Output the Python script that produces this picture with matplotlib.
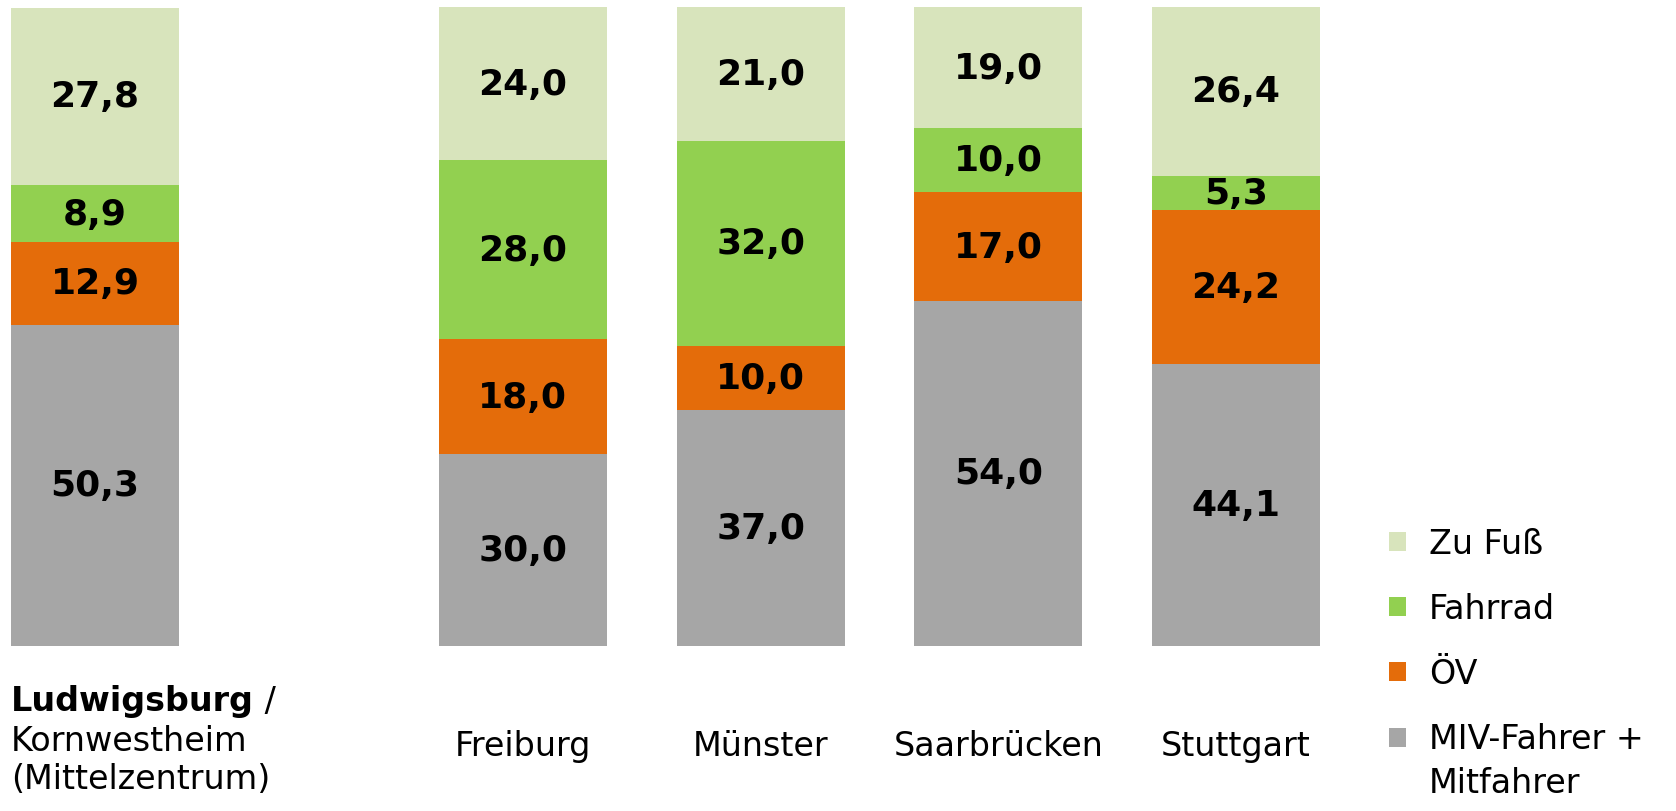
import matplotlib

matplotlib.use("Agg")
import matplotlib.pyplot as plt
import numpy as np
from matplotlib.legend_handler import HandlerPatch
from matplotlib.patches import Patch, Rectangle

# Modal split per city, stacked bottom -> top
CITIES = ["Ludwigsburg", "Freiburg", "Münster", "Saarbrücken", "Stuttgart"]
MODES = ["MIV-Fahrer +\nMitfahrer", "ÖV", "Fahrrad", "Zu Fuß"]
MIV = [50.3, 30.0, 37.0, 54.0, 44.1]
OEV = [12.9, 18.0, 10.0, 17.0, 24.2]
FAHRRAD = [8.9, 28.0, 32.0, 10.0, 5.3]
ZU_FUSS = [27.8, 24.0, 21.0, 19.0, 26.4]
COLORS = ["#a6a6a6", "#e46c0a", "#92d050", "#d8e4bc"]

W, H, DPI = 1676, 812, 100
X_POS = np.array([0, 1.8, 2.8, 3.8, 4.8])
BAR_W = 0.707
FS = 24
LINE_SP = 1.41


def _top_square(legend, orig_handle, xdescent, ydescent, width, height, fontsize):
    # multi-line labels: keep the square level with the first text line
    n_lines = orig_handle.get_label().count("\n") + 1
    shift = (n_lines - 1) * fontsize * LINE_SP / 2
    return Rectangle((-xdescent, -ydescent + shift), width, height)


fig = plt.figure(figsize=(W / DPI, H / DPI), dpi=DPI)
# axes placed so bar area runs from px 11..1320 horizontally, 8..647 vertically
ax = fig.add_axes([11 / W, (H - 647) / H, (1320 - 11) / W, 639 / H])
ax.set_xlim(X_POS[0] - BAR_W / 2, X_POS[-1] + BAR_W / 2)
ax.set_ylim(0, 100)
ax.axis("off")

bottom = np.zeros(len(CITIES))
handles = []
for vals, color, mode in zip([MIV, OEV, FAHRRAD, ZU_FUSS], COLORS, MODES):
    vals = np.array(vals)
    ax.bar(X_POS, vals, BAR_W, bottom=bottom, color=color, linewidth=0)
    for x, b, v in zip(X_POS, bottom, vals):
        ax.text(x, b + v / 2, f"{v:.1f}".replace(".", ","), ha="center", va="center",
                fontsize=26, fontweight="bold", color="black")
    bottom += vals
    handles.append(Patch(facecolor=color, label=mode))

# category labels
lab_y = -15.6
for x, name in zip(X_POS[1:], CITIES[1:]):
    ax.text(x, lab_y, name, ha="center", va="center", fontsize=FS, clip_on=False)

left = X_POS[0] - BAR_W / 2
lud_y = lab_y + 0.85
t_bold = ax.text(left, lud_y + 6.2, "Ludwigsburg", ha="left", va="center",
                 fontsize=FS, fontweight="bold", clip_on=False)
ax.annotate(" /", xy=(1, 0), xycoords=t_bold, ha="left", va="bottom", fontsize=FS)
ax.text(left, lud_y, "Kornwestheim", ha="left", va="center", fontsize=FS, clip_on=False)
ax.text(left, lud_y - 6.0, "(Mittelzentrum)", ha="left", va="center", fontsize=FS,
        clip_on=False)

leg = fig.legend(handles=handles[::-1], loc="upper left",
                 bbox_to_anchor=(1389 / W, 1 - 528 / H), frameon=False, fontsize=FS,
                 handlelength=0.5, handleheight=0.5, handletextpad=0.7,
                 labelspacing=0.96, borderpad=0, borderaxespad=0,
                 handler_map={Patch: HandlerPatch(patch_func=_top_square)})
for t in leg.get_texts():
    t.set_linespacing(LINE_SP)

fig.savefig("out.png", dpi=DPI)
